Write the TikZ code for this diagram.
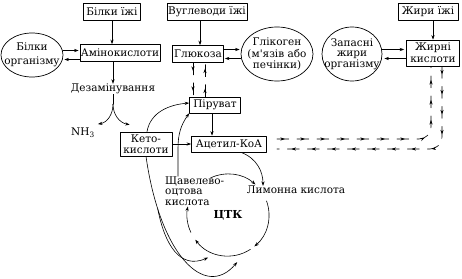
\documentclass[tikz,border=0pt]{standalone}
\usepackage{fontspec}
\setmainfont{DejaVu Serif}
\usetikzlibrary{positioning,shapes.geometric,decorations.markings,arrows.meta}
\tikzset{
  box/.style={draw,line width=0.7pt,inner sep=1pt,minimum height=17pt,align=center},
  blob/.style={draw,ellipse,line width=0.7pt,inner sep=0pt},
  lbl/.style={inner sep=0pt,align=center},
  arr/.style={-{Stealth[length=4.5pt,width=3.2pt]},line width=0.6pt},
  flow/.style={line width=0.6pt,dash pattern=on 12pt off 8pt,postaction={decorate},
    decoration={markings,mark=between positions 8pt and -2pt step 20pt with {\arrow{Stealth[length=4.5pt,width=3.2pt]}}}},
}
\begin{document}
\begin{tikzpicture}[x=1pt,y=1pt,line cap=round,line join=round,font=\fontsize{10.5}{12}\selectfont]
\useasboundingbox (0,0) rectangle (462,-278);
\node [box,minimum width=57pt] (bfood) at (112,-12) {Білки їжі};
\node [box,minimum width=80pt] (carb) at (207,-12) {Вуглеводи їжі};
\node [box,minimum width=60pt] (ffood) at (428,-12) {Жири їжі};
\node [blob,minimum width=62pt,minimum height=44pt] (bbody) at (32,-55) {};
\node [lbl,font=\fontsize{10.5}{14}\selectfont] at (bbody) {Білки\\організму};
\node [box,minimum width=80pt] (amino) at (120,-53) {Амінокислоти};
\node [box,minimum width=51pt] (glc) at (198,-54) {Глюкоза};
\node [blob,minimum width=72pt,minimum height=54pt] (glyc) at (277,-54) {};
\node [lbl,font=\fontsize{10.5}{11.5}\selectfont] at (glyc) {Глікоген\\(м\textquotesingle язів або\\печінки)};
\node [blob,minimum width=60pt,minimum height=54pt] (fstore) at (352,-54) {};
\node [lbl,font=\fontsize{10.5}{10.5}\selectfont] at (fstore) {Запасні\\жири\\організму};
\node [box,minimum width=53pt,minimum height=26pt,font=\fontsize{10.5}{12}\selectfont] (facid) at (433,-53) {Жирні\\кислоти};
\draw [arr] (bfood.south) -- (bfood.south |- amino.north);
\draw [arr] ([xshift=2pt]glc.north |- carb.south) -- ([xshift=2pt]glc.north);
\draw [arr] (facid.north |- ffood.south) -- (facid.north);
\draw [arr,shorten >=1pt] ([yshift=4.5pt]bbody.east) -- ([yshift=4.5pt]bbody.east -| amino.west);
\draw [arr,shorten >=1pt] ([yshift=-4.5pt]bbody.east -| amino.west) -- ([yshift=-4.5pt]bbody.east);
\draw [arr,shorten >=1pt] ([yshift=4.5pt]glc.east) -- ([yshift=4.5pt]glc.east -| glyc.west);
\draw [arr,shorten >=1pt] ([yshift=-4.5pt]glc.east -| glyc.west) -- ([yshift=-4.5pt]glc.east);
\draw [arr,shorten >=2pt] ([yshift=4.5pt]fstore.east) -- ([yshift=4.5pt]fstore.east -| facid.west);
\draw [arr,shorten >=2pt] ([yshift=-4.5pt]fstore.east -| facid.west) -- ([yshift=-4.5pt]fstore.east);
\node [lbl] (deam) at (113,-89) {Дезамінування};
\draw [arr] (deam.north |- amino.south) -- (deam.north);
\draw (deam.south) -- ++(0,-10) coordinate (split);
\node [lbl] (nh3) at (83,-133) {NH\textsubscript{3}};
\node [box,minimum width=52pt,minimum height=24pt,font=\fontsize{10.5}{11.5}\selectfont] (keto) at (146,-144) {Кето-\\кислоти};
\draw [arr] (split) to[out=-90,in=10] ([shift={(3pt,4pt)}]nh3.north east);
\draw [arr] (split) to[out=-90,in=170] ([shift={(10pt,7pt)}]keto.north west);
\node [box,minimum width=51pt,minimum height=16pt] (pyr) at (215,-105) {Піруват};
\node [box,minimum width=75pt,minimum height=16pt] (acoa) at (229,-144) {Ацетил-КоА};
\draw [flow] ([xshift=-5pt]glc.south) -- ([xshift=-5pt]glc.south |- pyr.north);
\draw [flow] ([xshift=7pt]glc.south |- pyr.north) -- ([xshift=7pt]glc.south);
\draw [arr] ([xshift=-3pt]pyr.south) -- ([xshift=-3pt]pyr.south |- acoa.north);
\draw [arr] (keto.east |- acoa) -- (acoa.west);
\draw [arr] ([xshift=1pt]keto.north) to[out=80,in=185] ([yshift=2pt]pyr.west);
\node [lbl,font=\fontsize{11}{12}\bfseries] (tca) at (228,-215) {ЦТК};
\node [lbl,anchor=west,align=left,font=\fontsize{10.5}{10.5}\selectfont] (oxa) at (165,-191) {Щавелево-\\оцтова\\кислота};
\node [lbl] (cit) at (296,-190) {Лимонна кислота};
\draw [arr] ([shift={(115:41)}]tca.center) arc[start angle=115,end angle=48,radius=41];
\draw [arr] ([shift={(20:41)}]tca.center) arc[start angle=20,end angle=-50,radius=41];
\draw [arr] ([shift={(-57:41)}]tca.center) arc[start angle=-57,end angle=-143,radius=41];
\draw [arr] ([shift={(-155:41)}]tca.center) arc[start angle=-155,end angle=-192,radius=41];
\draw [arr] ([xshift=12pt]acoa.south) .. controls +(16,-6) and +(0,14) .. ([xshift=-33pt]cit.north);
\draw [arr] ([xshift=13pt]oxa.north west) -- ++(0,28) to[out=90,in=-125] (pyr.south west);
\coordinate (inA) at ([shift={(-115:47)}]tca.center);
\coordinate (inB) at ([shift={(-79:48)}]tca.center);
\draw [arr] (keto.south) .. controls +(14,-99) and +(-32,-38) .. (inB) coordinate[pos=0.2] (kfork);
\draw [arr] (kfork) .. controls +(7,-36) and +(-28,-12) .. (inA);
\draw [flow,rounded corners=12pt] ([shift={(10pt,5pt)}]acoa.east) -| ([xshift=-2pt]facid.south);
\draw [flow,rounded corners=12pt] ([xshift=9pt]facid.south) |- ([shift={(10pt,-5pt)}]acoa.east);
\end{tikzpicture}
\end{document}
